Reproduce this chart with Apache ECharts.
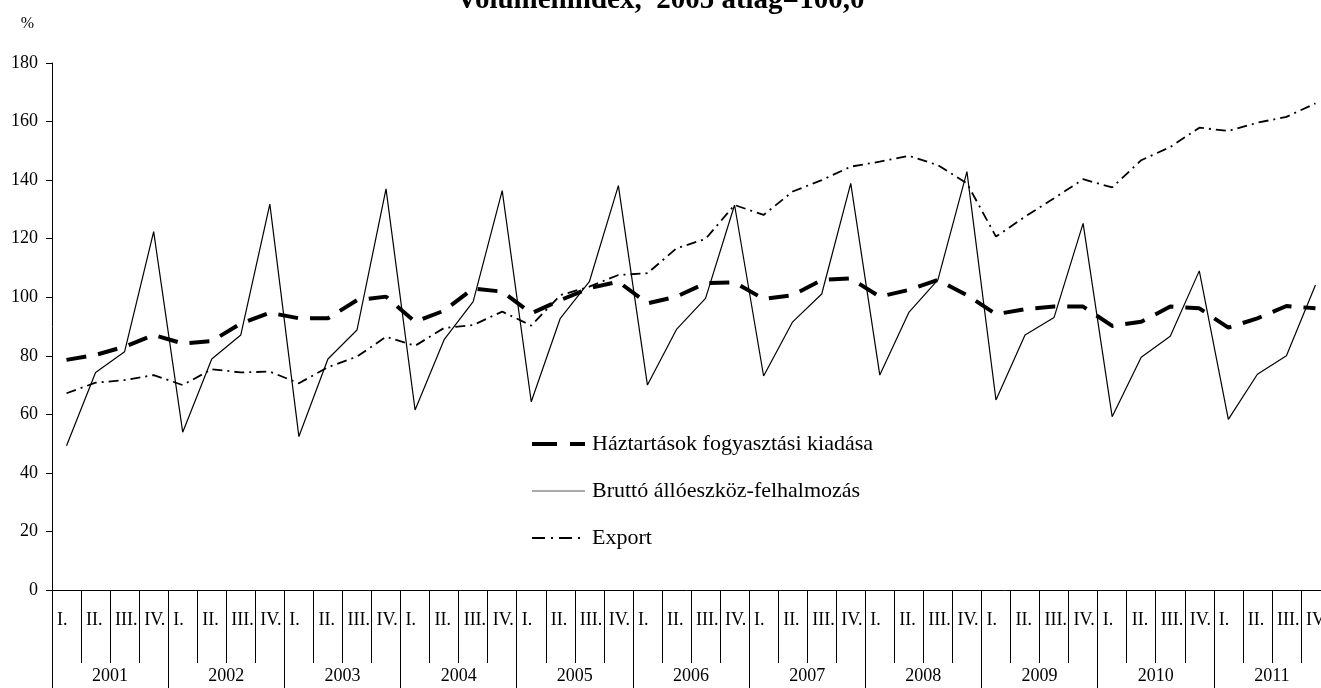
<!DOCTYPE html>
<html>
<head>
<meta charset="utf-8">
<script src="https://cdn.jsdelivr.net/npm/echarts@6/dist/echarts.min.js"></script>
<style>
  html, body { margin: 0; padding: 0; background: #fff; }
  #chart { width: 1321px; height: 688px; }
</style>
</head>
<body>
<div id="chart"></div>
<script>
  // évek és negyedévek
  const years = ['2001', '2002', '2003', '2004', '2005', '2006', '2007', '2008', '2009', '2010', '2011'];
  const quarters = ['I.', 'II.', 'III.', 'IV.'];

  // Háztartások fogyasztási kiadása
  const haztartasok = [78.6, 80.3, 83.1, 87.1, 84.2, 85.0, 91.0, 94.7, 92.8, 92.8, 99.0, 100.2,
    91.6, 95.4, 103.0, 101.9, 94.5, 99.0, 103.1, 105.3, 97.9, 100.2, 104.8, 105.1,
    99.4, 100.7, 105.9, 106.4, 100.2, 102.5, 105.9, 100.7, 94.2, 95.9, 96.8, 96.8,
    90.2, 91.6, 96.8, 96.2, 89.6, 92.8, 97.0, 96.2];
  // Bruttó állóeszköz-felhalmozás
  const brutto = [49.3, 74.3, 81.4, 122.4, 53.9, 78.9, 87.1, 131.8, 52.4, 78.9, 88.8, 137.0,
    61.5, 85.5, 98.5, 136.4, 64.3, 92.8, 105.3, 138.1, 70.0, 89.0, 99.6, 131.5,
    73.1, 91.6, 101.1, 138.9, 73.4, 94.8, 105.9, 142.9, 64.9, 87.1, 93.1, 125.2,
    59.2, 79.5, 86.7, 109.0, 58.3, 73.7, 80.0, 104.2];
  // Export
  const exportAdat = [67.2, 70.8, 71.7, 73.4, 70.0, 75.4, 74.3, 74.6, 70.6, 76.1, 79.7, 86.5,
    83.4, 89.5, 90.5, 95.1, 90.3, 100.7, 103.6, 107.6, 108.2, 116.7, 119.9, 131.5,
    128.1, 136.1, 140.0, 144.6, 146.3, 148.3, 145.1, 138.9, 120.7, 127.5, 133.8, 140.3,
    137.5, 146.8, 151.3, 157.9, 156.8, 159.6, 161.6, 166.2];

  const serif = '"Liberation Serif", "Times New Roman", serif';
  const qCats = [];
  const qLabels = [];
  years.forEach(y => quarters.forEach(q => { qCats.push(y + ' ' + q); qLabels.push(q); }));
  qLabels.push('');

  const myChart = echarts.init(document.getElementById('chart'));
  myChart.setOption({
    animation: false,
    title: {
      text: 'Volumenindex,  2005 átlag=100,0',
      left: 'center',
      top: -19,
      textStyle: { fontFamily: serif, fontSize: 29, fontWeight: 'bold', color: '#000' }
    },
    legend: {
      orient: 'vertical',
      left: 530,
      top: 433,
      padding: 0,
      itemWidth: 53,
      itemHeight: 14,
      itemGap: 25,
      itemStyle: { opacity: 0 },
      textStyle: { fontFamily: serif, fontSize: 22, color: '#000', padding: [0, 0, 0, 2] },
      data: [
        { name: 'Háztartások fogyasztási kiadása', lineStyle: { color: '#000', width: 4, type: [25, 13] } },
        { name: 'Bruttó állóeszköz-felhalmozás', lineStyle: { color: '#555', width: 1.2, type: 'solid' } },
        { name: 'Export', lineStyle: { color: '#000', width: 2, type: [13, 6, 2, 6] } }
      ]
    },
    grid: { left: 52, top: 63, height: 527, width: 1278, outerBoundsMode: 'none', containLabel: false },
    xAxis: [
      {
        // a vonalak tengelye
        type: 'category',
        data: qCats,
        position: 'bottom',
        boundaryGap: true,
        axisLine: { show: true, lineStyle: { color: '#000', width: 1 } },
        axisTick: { show: true, interval: 0, length: 73, lineStyle: { color: '#000', width: 1 } },
        axisLabel: { show: false }
      },
      {
        // negyedév feliratok, balra igazítva
        type: 'category',
        data: qLabels,
        position: 'bottom',
        boundaryGap: false,
        axisLine: { show: false },
        axisTick: { show: false },
        axisLabel: {
          interval: 0, align: 'left', margin: 21, padding: [0, 0, 0, 5],
          fontFamily: serif, fontSize: 18, color: '#000'
        }
      },
      {
        // évek
        type: 'category',
        data: years,
        position: 'bottom',
        boundaryGap: true,
        axisLine: { show: false },
        axisTick: { show: true, interval: 0, length: 100, lineStyle: { color: '#000', width: 1 } },
        axisLabel: { interval: 0, margin: 77, fontFamily: serif, fontSize: 18, color: '#000' }
      }
    ],
    yAxis: {
      type: 'value',
      min: 0,
      max: 180,
      interval: 20,
      name: '%',
      nameLocation: 'end',
      nameGap: 31,
      nameTextStyle: { fontFamily: serif, fontSize: 16, color: '#000', align: 'right', padding: [0, 18, 0, 0] },
      axisLine: { show: true, lineStyle: { color: '#000', width: 1 } },
      axisTick: { show: true, length: 6, lineStyle: { color: '#000' } },
      axisLabel: { margin: 14, fontFamily: serif, fontSize: 18, color: '#000' },
      splitLine: { show: false }
    },
    series: [
      {
        name: 'Háztartások fogyasztási kiadása',
        type: 'line',
        data: haztartasok,
        symbol: 'none',
        lineStyle: { color: '#000', width: 4, type: [20, 12] },
        itemStyle: { color: '#000' }
      },
      {
        name: 'Bruttó állóeszköz-felhalmozás',
        type: 'line',
        data: brutto,
        symbol: 'none',
        lineStyle: { color: '#000', width: 1.2, type: 'solid' },
        itemStyle: { color: '#000' }
      },
      {
        name: 'Export',
        type: 'line',
        data: exportAdat,
        symbol: 'none',
        lineStyle: { color: '#000', width: 1.8, type: [10, 5, 2, 5] },
        itemStyle: { color: '#000' }
      }
    ]
  });
</script>
</body>
</html>
